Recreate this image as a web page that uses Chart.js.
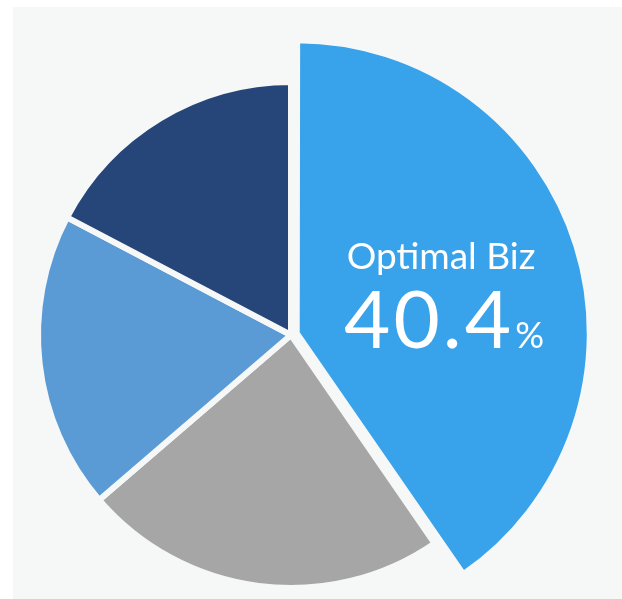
<!DOCTYPE html>
<html>
<head>
<meta charset="utf-8">
<script src="https://cdn.jsdelivr.net/npm/chart.js@4/dist/chart.umd.min.js"></script>
<style>
  html, body { margin: 0; padding: 0; background: #ffffff; overflow: hidden; }
  body { width: 622px; height: 599px; position: relative; }
  #panel { position: absolute; left: 13px; top: 7px; width: 609px; height: 592px; background: #f6f8f8; }
  canvas { display: block; }
</style>
</head>
<body>
<div id="panel"><canvas id="c" width="609" height="592"></canvas></div>
<script>
// ---- data ----
const categories = ["Optimal Biz", "Segment B", "Segment C", "Segment D"];
const shares = [40.4, 23.3, 19.0, 17.3];
const sliceColors = ["#38a2ea", "#a6a6a6", "#5b9bd5", "#264679"];
const highlightIndex = 0;
const highlightLabel = "Optimal Biz";
const highlightValue = "40.4";
const highlightUnit = "%";

const panelColor = "#f6f8f8";
const baseRadius = 253;
const highlightScale = 1.148;

const highlightPlugin = {
  id: "highlight",
  afterDatasetsUpdate(chart) {
    const arc = chart.getDatasetMeta(0).data[highlightIndex];
    if (arc && !arc._enlarged) {
      arc.outerRadius = arc.outerRadius * highlightScale;
      arc._enlarged = true;
    }
  },
  afterDatasetsDraw(chart) {
    const arc = chart.getDatasetMeta(0).data[highlightIndex];
    const ctx = chart.ctx;
    const cx = arc.x + arc.outerRadius * 0.52;
    const cy = arc.y;
    ctx.save();
    ctx.fillStyle = "#ffffff";
    ctx.textBaseline = "alphabetic";
    ctx.textAlign = "center";
    ctx.font = "37px Lato, 'Open Sans', sans-serif";
    ctx.fillText(highlightLabel, cx - 1, cy - 66);
    ctx.textAlign = "left";
    ctx.letterSpacing = "3px";
    ctx.font = "80px Lato, 'Open Sans', sans-serif";
    const w1 = ctx.measureText(highlightValue).width;
    ctx.letterSpacing = "0px";
    ctx.font = "36px Lato, 'Open Sans', sans-serif";
    const w2 = ctx.measureText(highlightUnit).width;
    const gap = 1;
    const x0 = cx + 2 - (w1 + gap + w2) / 2;
    ctx.letterSpacing = "3px";
    ctx.font = "80px Lato, 'Open Sans', sans-serif";
    ctx.fillText(highlightValue, x0, cy + 13);
    ctx.letterSpacing = "0px";
    ctx.font = "36px Lato, 'Open Sans', sans-serif";
    ctx.fillText(highlightUnit, x0 + w1 + gap, cy + 13);
    ctx.restore();
  }
};

new Chart(document.getElementById("c"), {
  type: "pie",
  data: {
    labels: categories,
    datasets: [{
      data: shares,
      backgroundColor: sliceColors,
      borderColor: panelColor,
      borderWidth: 6,
      offset: shares.map((v, i) => i === highlightIndex ? 24 : 0),
      radius: baseRadius
    }]
  },
  options: {
    responsive: false,
    animation: false,
    events: [],
    layout: { padding: { left: 0, right: 53, top: 64, bottom: 0 } },
    plugins: {
      legend: { display: false },
      tooltip: { enabled: false }
    }
  },
  plugins: [highlightPlugin]
});
</script>
</body>
</html>
